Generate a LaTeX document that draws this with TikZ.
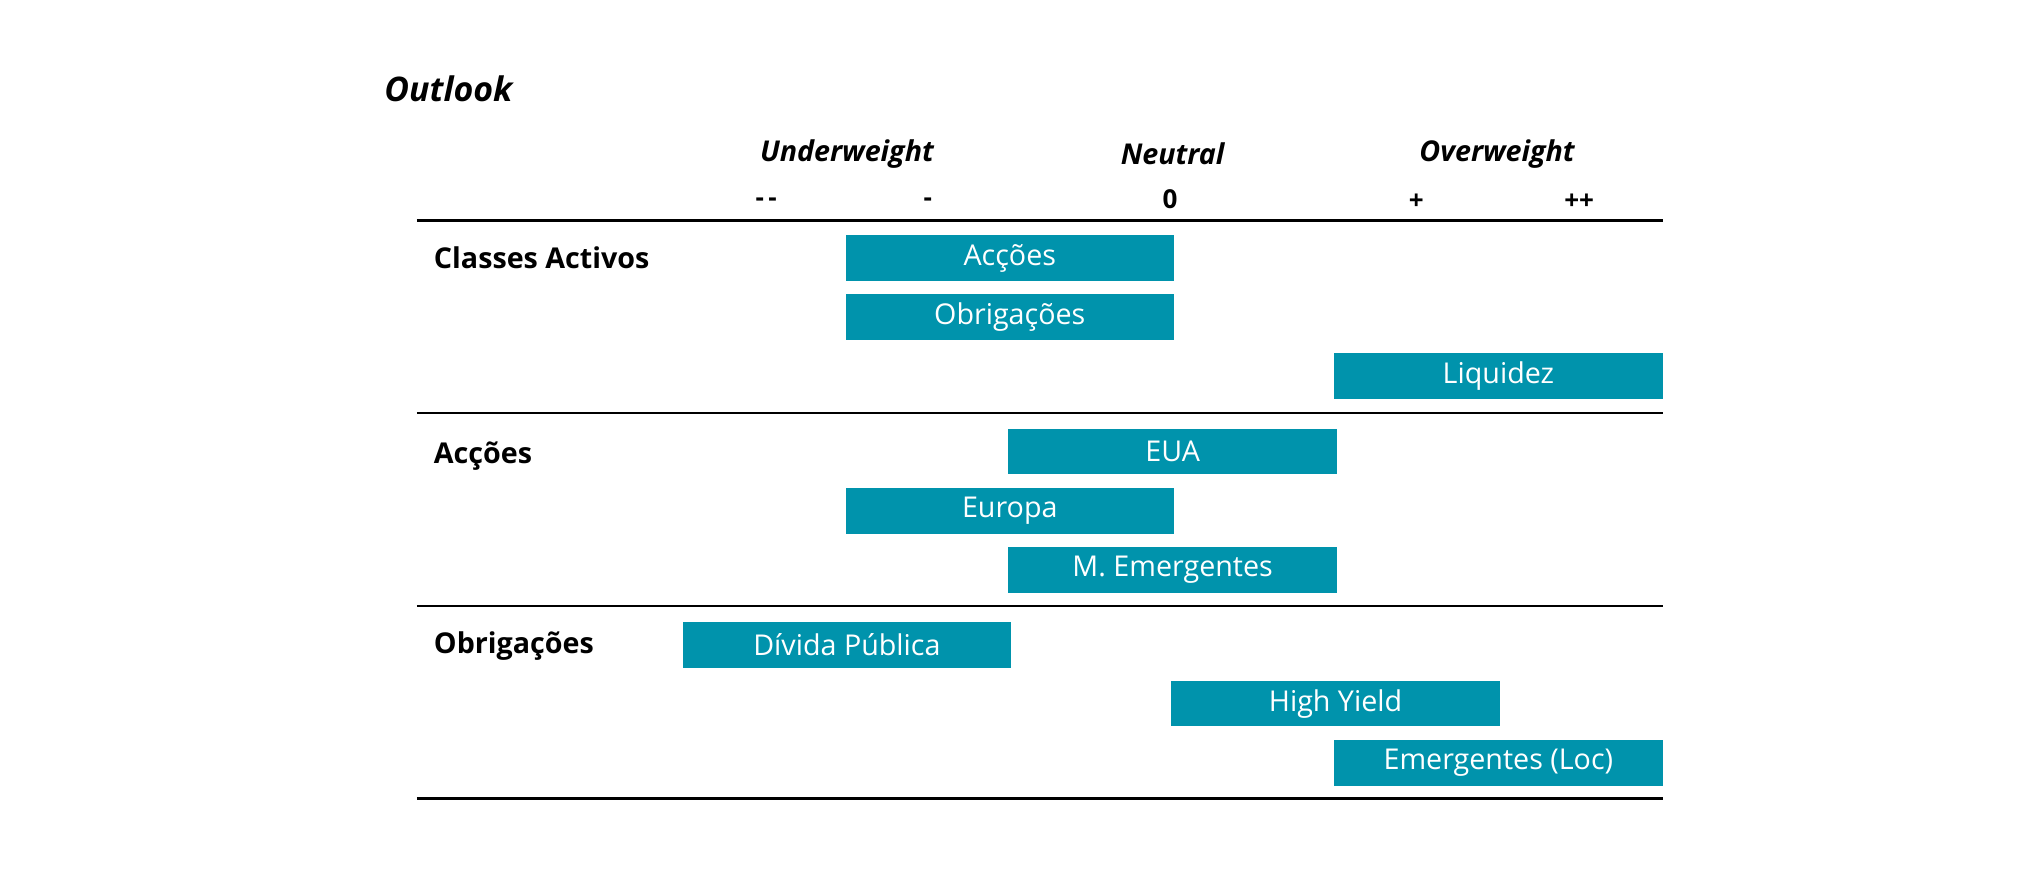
\documentclass[tikz,border=0pt]{standalone}
\usepackage{fontspec}
\setmainfont{Open Sans}
\definecolor{bar}{HTML}{0093AC}
\begin{document}
\begin{tikzpicture}[x=0.5pt,y=-0.5pt,
  barbox/.style={fill=bar,text=white,minimum width=126pt,minimum height=17.5pt,inner sep=0pt,font=\fontsize{11}{12}\selectfont},
  head/.style={font=\fontsize{11}{12}\selectfont\bfseries\itshape},
  tick/.style={font=\fontsize{10}{12}\selectfont\bfseries},
  rowlab/.style={anchor=west,font=\fontsize{11}{12}\selectfont\bfseries},
  rule/.style={line width=1pt}]
\useasboundingbox (0,0) rectangle (1568,669);
\node[anchor=west,font=\fontsize{13}{14}\selectfont\bfseries\itshape] (title) at (288,68) {Outlook};
\node[head] (uw) at (650,118) {Underweight};
\node[head] (nt) at (900,118) {Neutral};
\node[head] (ow) at (1149,118) {Overweight};
\node[tick] (t1) at (588,155) {-\,-};
\node[tick] (t2) at (712,155) {-};
\node[tick] (t3) at (898,153) {0};
\node[tick] (t4) at (1087,155) {+};
\node[tick] (t5) at (1212,155) {++};
\foreach \y/\n in {169/r1,317/r2,465/r3,613/r4}{
  \coordinate (\n a) at (320,\y); \coordinate (\n b) at (1276,\y);
  \draw[rule] (\n a) -- (\n b);}
\node[rowlab] (l1) at (326,198) {Classes Activos};
\node[rowlab] (l2) at (326,350) {Acções};
\node[rowlab] (l3) at (326,496) {Obrigações};
\node[barbox] (b1) at (775,198) {Acções};
\node[barbox] (b2) at (775,243.5) {Obrigações};
\node[barbox] (b3) at (1150,288.5) {Liquidez};
\node[barbox] (b4) at (900,346.5) {EUA};
\node[barbox] (b5) at (775,392) {Europa};
\node[barbox] (b6) at (900,437.5) {M. Emergentes};
\node[barbox] (b7) at (650,495) {Dívida Pública};
\node[barbox] (b8) at (1025,540) {High Yield};
\node[barbox] (b9) at (1150,585.5) {Emergentes (Loc)};
\end{tikzpicture}
\end{document}
